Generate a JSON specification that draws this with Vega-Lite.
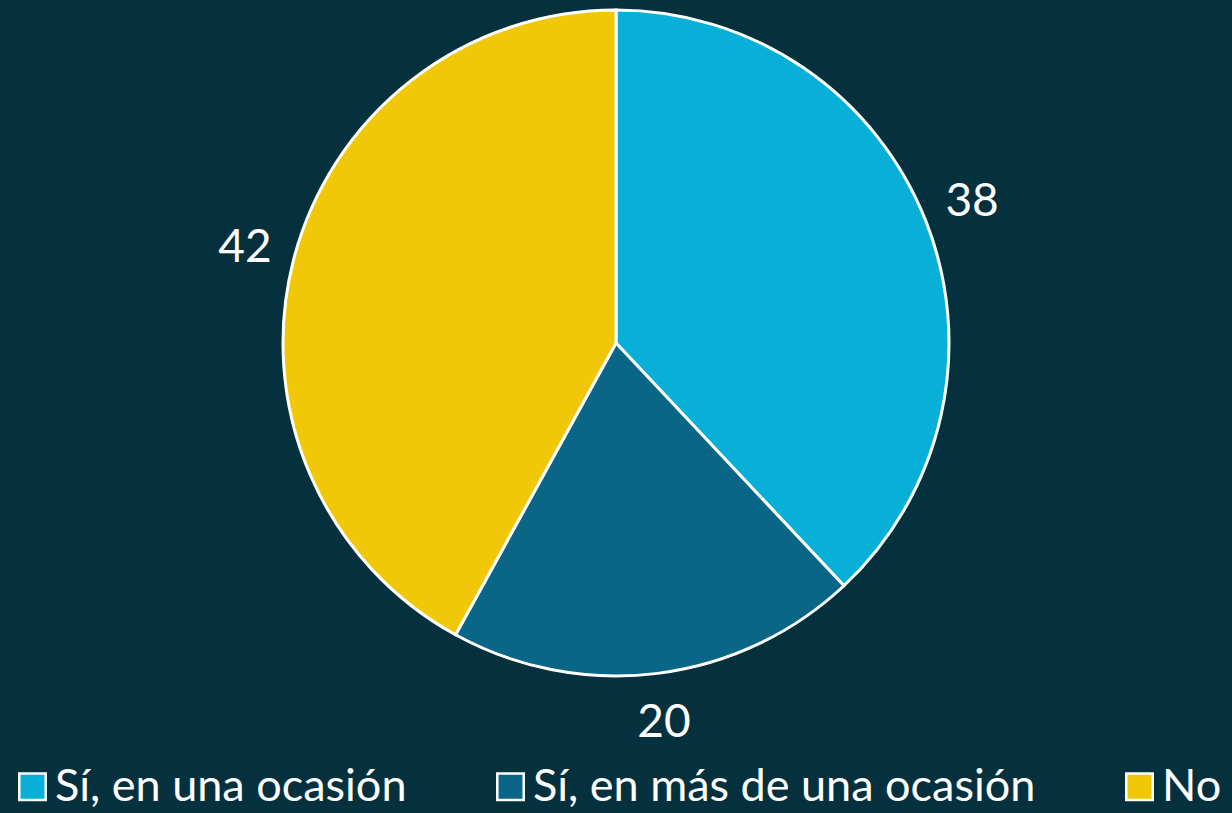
{
  "$schema": "https://vega.github.io/schema/vega-lite/v6.json",
  "width": 1232,
  "height": 686,
  "autosize": {"type": "none"},
  "padding": {"top": 0, "left": 0, "right": 0, "bottom": 127},
  "background": "#05313F",
  "config": {"view": {"stroke": null}, "font": "Lato"},
  "data": {
    "values": [
      {"respuesta": "Sí, en una ocasión", "valor": 38, "orden": 1},
      {"respuesta": "Sí, en más de una ocasión", "valor": 20, "orden": 2},
      {"respuesta": "No", "valor": 42, "orden": 3}
    ]
  },
  "encoding": {
    "theta": {"field": "valor", "type": "quantitative", "stack": true},
    "order": {"field": "orden", "type": "quantitative"},
    "color": {
      "field": "respuesta",
      "type": "nominal",
      "sort": ["Sí, en una ocasión", "Sí, en más de una ocasión", "No"],
      "scale": {
        "domain": ["Sí, en una ocasión", "Sí, en más de una ocasión", "No"],
        "range": ["#08B0D8", "#0A6687", "#F0C808"]
      },
      "legend": {
        "title": null,
        "orient": "none",
        "direction": "horizontal",
        "legendX": 10,
        "legendY": 764,
        "padding": 0,
        "symbolType": "square",
        "symbolSize": 700,
        "symbolStrokeColor": "white",
        "symbolStrokeWidth": 2.5,
        "symbolOpacity": 1,
        "labelColor": "white",
        "labelFontSize": 45,
        "labelFont": "Lato",
        "labelOffset": 0,
        "labelLimit": 0,
        "columnPadding": 81
      }
    }
  },
  "layer": [
    {
      "mark": {"type": "arc", "outerRadius": 333, "stroke": "white", "strokeWidth": 3}
    },
    {
      "mark": {"type": "text", "radius": 383, "fontSize": 46, "font": "Lato"},
      "encoding": {
        "text": {"field": "valor", "type": "quantitative"},
        "color": {"value": "white"}
      }
    }
  ]
}
